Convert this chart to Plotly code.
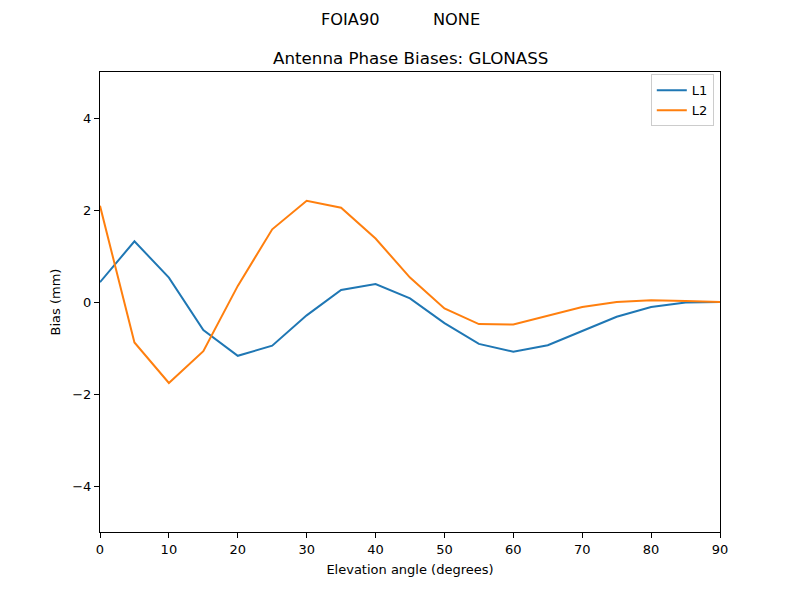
import plotly.graph_objects as go

elevation = [0, 5, 10, 15, 20, 25, 30, 35, 40, 45, 50, 55, 60, 65, 70, 75, 80, 85, 90]
l1_bias = [0.43, 1.32, 0.53, -0.61, -1.17, -0.95, -0.29, 0.26, 0.39, 0.08, -0.46, -0.91, -1.08, -0.94, -0.63, -0.32, -0.11, -0.01, 0.0]
l2_bias = [2.09, -0.88, -1.76, -1.07, 0.35, 1.58, 2.20, 2.05, 1.38, 0.53, -0.14, -0.48, -0.49, -0.30, -0.11, 0.0, 0.04, 0.02, 0.0]
x_ticks = [0, 10, 20, 30, 40, 50, 60, 70, 80, 90]
y_ticks = [-4, -2, 0, 2, 4]
y_tick_text = ["\u22124", "\u22122", "0", "2", "4"]
suptitle_parts = ["FOIA90", "NONE"]

font = "DejaVu Sans"
fig = go.Figure()
fig.add_trace(go.Scatter(x=elevation, y=l1_bias, mode="lines", name="L1",
                         line=dict(color="#1f77b4", width=2)))
fig.add_trace(go.Scatter(x=elevation, y=l2_bias, mode="lines", name="L2",
                         line=dict(color="#ff7f0e", width=2)))

axis_common = dict(showgrid=False, zeroline=False, showline=True, linecolor="black",
                   linewidth=1, mirror=True, ticks="outside", ticklen=5,
                   tickcolor="black", tickfont=dict(family=font, size=13, color="black"))

plot_h = 460
plot_w = 620
sup_y = 1 + (72 - 20) / plot_h
fig.update_layout(
    width=800, height=600,
    margin=dict(l=92, r=88, t=64, b=76),
    paper_bgcolor="white", plot_bgcolor="white",
    font=dict(family=font, size=13, color="black"),
    xaxis=dict(range=[0, 90], tickvals=x_ticks,
               title=dict(text="Elevation angle (degrees)", font=dict(family=font, size=13), standoff=9),
               **axis_common),
    yaxis=dict(range=[-5, 5], tickvals=y_ticks, ticktext=y_tick_text,
               title=dict(text="Bias (mm)", font=dict(family=font, size=13), standoff=8),
               **axis_common),
    legend=dict(x=0.99, y=0.995, xanchor="right", yanchor="top",
                bordercolor="#cccccc", borderwidth=1, bgcolor="rgba(255,255,255,0.8)",
                font=dict(family=font, size=13), tracegroupgap=0),
    showlegend=True,
    annotations=[
        dict(text=suptitle_parts[0], xref="paper", yref="paper",
             x=(350.5 - 100) / plot_w, xanchor="center", y=sup_y, yanchor="middle",
             showarrow=False, font=dict(family=font, size=16.2)),
        dict(text=suptitle_parts[1], xref="paper", yref="paper",
             x=(456.5 - 100) / plot_w, xanchor="center", y=sup_y, yanchor="middle",
             showarrow=False, font=dict(family=font, size=16.2)),
        dict(text="Antenna Phase Biases: GLONASS", xref="paper", yref="paper",
             x=0.5, y=1 + (72 - 58) / plot_h, yanchor="middle",
             showarrow=False, font=dict(family=font, size=16.7)),
    ],
)

fig.write_html("out.html")
